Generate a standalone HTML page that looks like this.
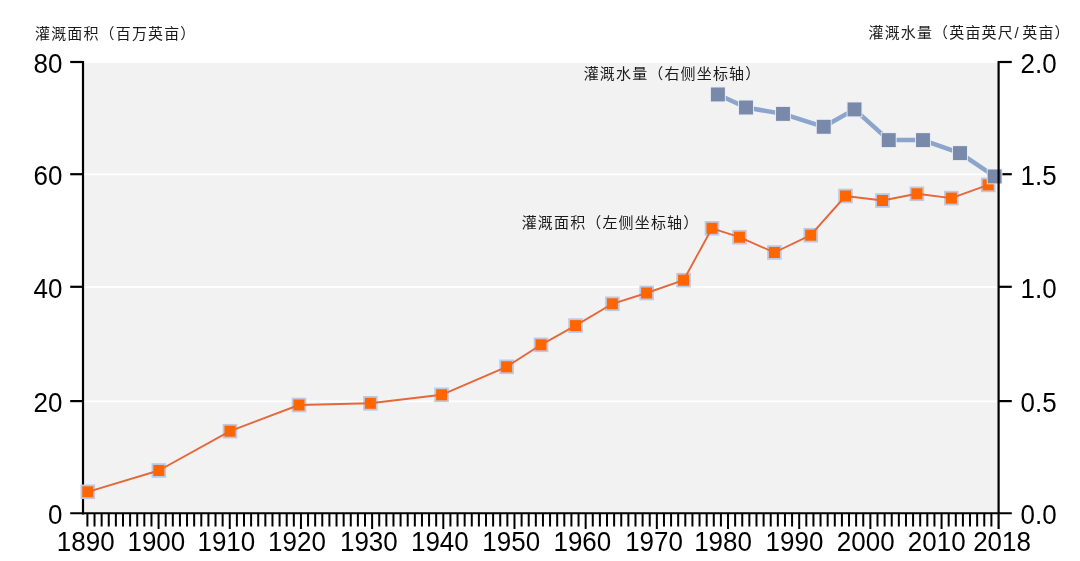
<!DOCTYPE html>
<html lang="zh"><head><meta charset="utf-8"><title>chart</title>
<style>html,body{margin:0;padding:0;background:#fff}body{width:1080px;height:561px;overflow:hidden}svg{display:block}text{font-family:"Liberation Sans","Noto Sans CJK SC",sans-serif;fill:#000}</style></head><body>
<svg width="1080" height="561" viewBox="0 0 1080 561">
<title>灌溉面积与灌溉水量，1890–2018</title>
<desc>灌溉面积（百万英亩，左侧坐标轴）与灌溉水量（英亩英尺/英亩，右侧坐标轴）折线图，1890 至 2018 年。</desc>
<rect width="1080" height="561" fill="#fff"/>
<rect x="83.0" y="63.0" width="915.6" height="450.3" fill="#f2f2f2"/>
<line x1="83.0" x2="998.6" y1="401.30" y2="401.30" stroke="#fff" stroke-width="1.8"/>
<line x1="83.0" x2="998.6" y1="287.00" y2="287.00" stroke="#fff" stroke-width="1.8"/>
<line x1="83.0" x2="998.6" y1="174.40" y2="174.40" stroke="#fff" stroke-width="1.8"/>
<g stroke="#000" stroke-width="2.2" fill="none">
<line x1="83.00" x2="83.00" y1="60.90" y2="514.40"/>
<line x1="70.2" x2="1011.8" y1="513.30" y2="513.30" stroke-width="2.05"/>
<line x1="70.2" x2="83.00" y1="401.10" y2="401.10"/>
<line x1="998.60" x2="1011.8" y1="401.10" y2="401.10"/>
<line x1="70.2" x2="83.00" y1="286.80" y2="286.80"/>
<line x1="998.60" x2="1011.8" y1="286.80" y2="286.80"/>
<line x1="70.2" x2="83.00" y1="174.20" y2="174.20"/>
<line x1="998.60" x2="1011.8" y1="174.20" y2="174.20"/>
<line x1="70.2" x2="83.00" y1="62.00" y2="62.00"/>
<line x1="998.60" x2="1011.8" y1="62.00" y2="62.00"/>
<path d="M87.40 513.3V526.4M94.52 513.3V526.4M101.64 513.3V526.4M108.75 513.3V526.4M115.87 513.3V526.4M122.99 513.3V526.4M130.11 513.3V526.4M137.23 513.3V526.4M144.34 513.3V526.4M151.46 513.3V526.4M158.58 513.3V528.9M165.70 513.3V526.4M172.82 513.3V526.4M179.93 513.3V526.4M187.05 513.3V526.4M194.17 513.3V526.4M201.29 513.3V526.4M208.41 513.3V526.4M215.52 513.3V526.4M222.64 513.3V526.4M229.76 513.3V528.9M236.88 513.3V526.4M244.00 513.3V526.4M251.11 513.3V526.4M258.23 513.3V526.4M265.35 513.3V526.4M272.47 513.3V526.4M279.59 513.3V526.4M286.70 513.3V526.4M293.82 513.3V526.4M300.94 513.3V528.9M308.06 513.3V526.4M315.18 513.3V526.4M322.29 513.3V526.4M329.41 513.3V526.4M336.53 513.3V526.4M343.65 513.3V526.4M350.77 513.3V526.4M357.88 513.3V526.4M365.00 513.3V526.4M372.12 513.3V528.9M379.24 513.3V526.4M386.36 513.3V526.4M393.47 513.3V526.4M400.59 513.3V526.4M407.71 513.3V526.4M414.83 513.3V526.4M421.95 513.3V526.4M429.06 513.3V526.4M436.18 513.3V526.4M443.30 513.3V528.9M450.42 513.3V526.4M457.54 513.3V526.4M464.65 513.3V526.4M471.77 513.3V526.4M478.89 513.3V526.4M486.01 513.3V526.4M493.13 513.3V526.4M500.24 513.3V526.4M507.36 513.3V526.4M514.48 513.3V528.9M521.60 513.3V526.4M528.72 513.3V526.4M535.83 513.3V526.4M542.95 513.3V526.4M550.07 513.3V526.4M557.19 513.3V526.4M564.31 513.3V526.4M571.42 513.3V526.4M578.54 513.3V526.4M585.66 513.3V528.9M592.78 513.3V526.4M599.90 513.3V526.4M607.01 513.3V526.4M614.13 513.3V526.4M621.25 513.3V526.4M628.37 513.3V526.4M635.49 513.3V526.4M642.60 513.3V526.4M649.72 513.3V526.4M656.84 513.3V528.9M663.96 513.3V526.4M671.08 513.3V526.4M678.19 513.3V526.4M685.31 513.3V526.4M692.43 513.3V526.4M699.55 513.3V526.4M706.67 513.3V526.4M713.78 513.3V526.4M720.90 513.3V526.4M728.02 513.3V528.9M735.14 513.3V526.4M742.26 513.3V526.4M749.37 513.3V526.4M756.49 513.3V526.4M763.61 513.3V526.4M770.73 513.3V526.4M777.85 513.3V526.4M784.96 513.3V526.4M792.08 513.3V526.4M799.20 513.3V528.9M806.32 513.3V526.4M813.44 513.3V526.4M820.55 513.3V526.4M827.67 513.3V526.4M834.79 513.3V526.4M841.91 513.3V526.4M849.03 513.3V526.4M856.14 513.3V526.4M863.26 513.3V526.4M870.38 513.3V528.9M877.50 513.3V526.4M884.62 513.3V526.4M891.73 513.3V526.4M898.85 513.3V526.4M905.97 513.3V526.4M913.09 513.3V526.4M920.21 513.3V526.4M927.32 513.3V526.4M934.44 513.3V526.4M941.56 513.3V528.9M948.68 513.3V526.4M955.80 513.3V526.4M962.91 513.3V526.4M970.03 513.3V526.4M977.15 513.3V526.4M984.27 513.3V526.4M991.39 513.3V526.4" stroke-width="2"/>
</g>
<rect x="80.50" y="484.50" width="14.60" height="14.60" fill="#bec8e3"/>
<rect x="151.55" y="463.20" width="14.60" height="14.60" fill="#bec8e3"/>
<rect x="222.70" y="423.90" width="14.60" height="14.60" fill="#bec8e3"/>
<rect x="291.70" y="397.70" width="14.60" height="14.60" fill="#bec8e3"/>
<rect x="363.10" y="396.00" width="14.60" height="14.60" fill="#bec8e3"/>
<rect x="434.30" y="387.50" width="14.60" height="14.60" fill="#bec8e3"/>
<rect x="499.30" y="359.50" width="14.60" height="14.60" fill="#bec8e3"/>
<rect x="533.70" y="337.50" width="14.60" height="14.60" fill="#bec8e3"/>
<rect x="568.20" y="318.30" width="14.60" height="14.60" fill="#bec8e3"/>
<rect x="605.10" y="296.50" width="14.60" height="14.60" fill="#bec8e3"/>
<rect x="639.35" y="285.70" width="14.60" height="14.60" fill="#bec8e3"/>
<rect x="676.25" y="272.90" width="14.60" height="14.60" fill="#bec8e3"/>
<rect x="704.70" y="221.00" width="14.60" height="14.60" fill="#bec8e3"/>
<rect x="732.20" y="229.90" width="14.60" height="14.60" fill="#bec8e3"/>
<rect x="767.10" y="245.20" width="14.60" height="14.60" fill="#bec8e3"/>
<rect x="803.40" y="227.90" width="14.60" height="14.60" fill="#bec8e3"/>
<rect x="838.20" y="188.70" width="14.60" height="14.60" fill="#bec8e3"/>
<rect x="875.20" y="193.20" width="14.60" height="14.60" fill="#bec8e3"/>
<rect x="909.60" y="186.50" width="14.60" height="14.60" fill="#bec8e3"/>
<rect x="944.05" y="190.80" width="14.60" height="14.60" fill="#bec8e3"/>
<rect x="980.90" y="177.60" width="14.60" height="14.60" fill="#bec8e3"/>
<polyline points="87.80,491.80 158.85,470.50 230.00,431.20 299.00,405.00 370.40,403.30 441.60,394.80 506.60,366.80 541.00,344.80 575.50,325.60 612.40,303.80 646.65,293.00 683.55,280.20 712.00,228.30 739.50,237.20 774.40,252.50 810.70,235.20 845.50,196.00 882.50,200.50 916.90,193.80 951.35,198.10 988.20,184.90" fill="none" stroke="#e5673a" stroke-width="1.90" stroke-linejoin="round"/>
<rect x="82.30" y="486.30" width="11.00" height="11.00" fill="#ff6600"/>
<rect x="153.35" y="465.00" width="11.00" height="11.00" fill="#ff6600"/>
<rect x="224.50" y="425.70" width="11.00" height="11.00" fill="#ff6600"/>
<rect x="293.50" y="399.50" width="11.00" height="11.00" fill="#ff6600"/>
<rect x="364.90" y="397.80" width="11.00" height="11.00" fill="#ff6600"/>
<rect x="436.10" y="389.30" width="11.00" height="11.00" fill="#ff6600"/>
<rect x="501.10" y="361.30" width="11.00" height="11.00" fill="#ff6600"/>
<rect x="535.50" y="339.30" width="11.00" height="11.00" fill="#ff6600"/>
<rect x="570.00" y="320.10" width="11.00" height="11.00" fill="#ff6600"/>
<rect x="606.90" y="298.30" width="11.00" height="11.00" fill="#ff6600"/>
<rect x="641.15" y="287.50" width="11.00" height="11.00" fill="#ff6600"/>
<rect x="678.05" y="274.70" width="11.00" height="11.00" fill="#ff6600"/>
<rect x="706.50" y="222.80" width="11.00" height="11.00" fill="#ff6600"/>
<rect x="734.00" y="231.70" width="11.00" height="11.00" fill="#ff6600"/>
<rect x="768.90" y="247.00" width="11.00" height="11.00" fill="#ff6600"/>
<rect x="805.20" y="229.70" width="11.00" height="11.00" fill="#ff6600"/>
<rect x="840.00" y="190.50" width="11.00" height="11.00" fill="#ff6600"/>
<rect x="877.00" y="195.00" width="11.00" height="11.00" fill="#ff6600"/>
<rect x="911.40" y="188.30" width="11.00" height="11.00" fill="#ff6600"/>
<rect x="945.85" y="192.60" width="11.00" height="11.00" fill="#ff6600"/>
<rect x="982.70" y="179.40" width="11.00" height="11.00" fill="#ff6600"/>
<polyline points="717.90,94.45 746.00,107.50 783.00,113.90 823.75,126.80 854.50,109.40 888.75,140.10 923.00,140.10 960.00,153.10 994.60,176.45" fill="none" stroke="#8ba5cd" stroke-width="4.50" stroke-linejoin="round"/>
<rect x="710.05" y="86.60" width="15.70" height="15.70" fill="#e8ebf5"/>
<rect x="738.15" y="99.65" width="15.70" height="15.70" fill="#e8ebf5"/>
<rect x="775.15" y="106.05" width="15.70" height="15.70" fill="#e8ebf5"/>
<rect x="815.90" y="118.95" width="15.70" height="15.70" fill="#e8ebf5"/>
<rect x="846.65" y="101.55" width="15.70" height="15.70" fill="#e8ebf5"/>
<rect x="880.90" y="132.25" width="15.70" height="15.70" fill="#e8ebf5"/>
<rect x="915.15" y="132.25" width="15.70" height="15.70" fill="#e8ebf5"/>
<rect x="952.15" y="145.25" width="15.70" height="15.70" fill="#e8ebf5"/>
<rect x="986.75" y="168.60" width="15.70" height="15.70" fill="#e8ebf5"/>
<rect x="710.95" y="87.50" width="13.90" height="13.90" fill="#7889a9"/>
<rect x="739.05" y="100.55" width="13.90" height="13.90" fill="#7889a9"/>
<rect x="776.05" y="106.95" width="13.90" height="13.90" fill="#7889a9"/>
<rect x="816.80" y="119.85" width="13.90" height="13.90" fill="#7889a9"/>
<rect x="847.55" y="102.45" width="13.90" height="13.90" fill="#7889a9"/>
<rect x="881.80" y="133.15" width="13.90" height="13.90" fill="#7889a9"/>
<rect x="916.05" y="133.15" width="13.90" height="13.90" fill="#7889a9"/>
<rect x="953.05" y="146.15" width="13.90" height="13.90" fill="#7889a9"/>
<rect x="987.65" y="169.50" width="13.90" height="13.90" fill="#7889a9"/>
<line x1="998.60" x2="998.60" y1="60.90" y2="529" stroke="#000" stroke-width="2.2"/>
<g font-size="26" style="opacity:.999">
<text transform="translate(62.40 524.30) scale(1 1.035)" text-anchor="end">0</text>
<text transform="translate(62.40 412.10) scale(1 1.035)" text-anchor="end">20</text>
<text transform="translate(62.40 297.80) scale(1 1.035)" text-anchor="end">40</text>
<text transform="translate(62.40 185.20) scale(1 1.035)" text-anchor="end">60</text>
<text transform="translate(62.40 73.00) scale(1 1.035)" text-anchor="end">80</text>
<text transform="translate(1020.50 524.30) scale(1 1.035)" text-anchor="start">0.0</text>
<text transform="translate(1020.50 412.10) scale(1 1.035)" text-anchor="start">0.5</text>
<text transform="translate(1020.50 297.80) scale(1 1.035)" text-anchor="start">1.0</text>
<text transform="translate(1020.50 185.20) scale(1 1.035)" text-anchor="start">1.5</text>
<text transform="translate(1020.50 73.00) scale(1 1.035)" text-anchor="start">2.0</text>
<text transform="translate(85.75 550.80) scale(1 1.035)" text-anchor="middle">1890</text>
<text transform="translate(156.35 550.80) scale(1 1.035)" text-anchor="middle">1900</text>
<text transform="translate(226.35 550.80) scale(1 1.035)" text-anchor="middle">1910</text>
<text transform="translate(296.95 550.80) scale(1 1.035)" text-anchor="middle">1920</text>
<text transform="translate(368.85 550.80) scale(1 1.035)" text-anchor="middle">1930</text>
<text transform="translate(439.85 550.80) scale(1 1.035)" text-anchor="middle">1940</text>
<text transform="translate(511.25 550.80) scale(1 1.035)" text-anchor="middle">1950</text>
<text transform="translate(582.35 550.80) scale(1 1.035)" text-anchor="middle">1960</text>
<text transform="translate(654.05 550.80) scale(1 1.035)" text-anchor="middle">1970</text>
<text transform="translate(723.05 550.80) scale(1 1.035)" text-anchor="middle">1980</text>
<text transform="translate(794.45 550.80) scale(1 1.035)" text-anchor="middle">1990</text>
<text transform="translate(865.75 550.80) scale(1 1.035)" text-anchor="middle">2000</text>
<text transform="translate(936.75 550.80) scale(1 1.035)" text-anchor="middle">2010</text>
<text transform="translate(1002.05 550.80) scale(1 1.035)" text-anchor="middle">2018</text>
</g>
<g font-size="15" letter-spacing="1.15">
<text x="35.0" y="39.1" style="fill:#1a1a1a">灌溉面积（百万英亩）</text>
<text x="868.5" y="37.6" style="fill:#1a1a1a">灌溉水量（英亩英尺<tspan x="1014.6">/</tspan><tspan x="1022.3">英亩）</tspan></text>
<text x="583.7" y="79.1" style="fill:#1a1a1a">灌溉水量（右侧坐标轴）</text>
<text x="521.7" y="227.5" style="fill:#1a1a1a">灌溉面积（左侧坐标轴）</text>
</g>
</svg></body></html>
